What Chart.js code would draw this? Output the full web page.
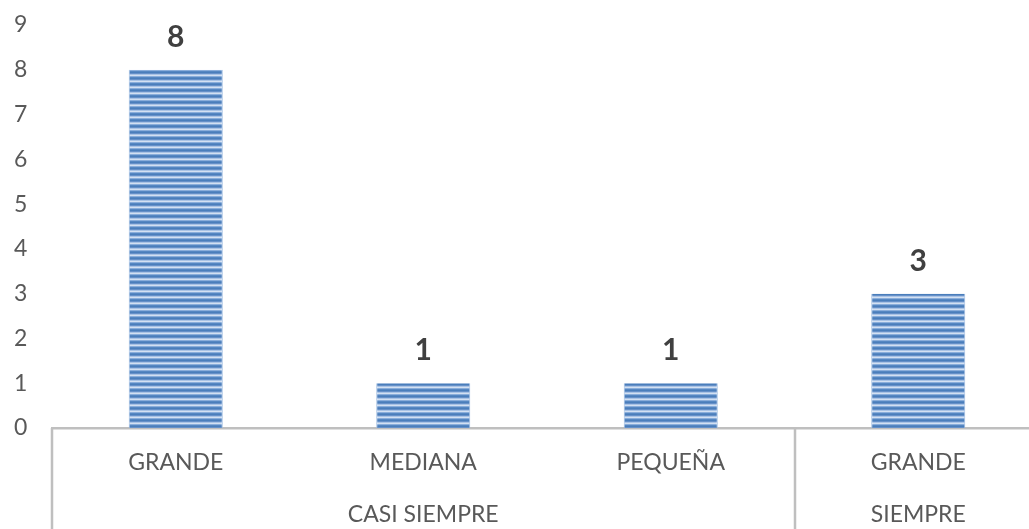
<!DOCTYPE html>
<html>
<head>
<meta charset="utf-8">
<script src="https://cdn.jsdelivr.net/npm/chart.js@4/dist/chart.umd.min.js"></script>
<style>
html,body{margin:0;padding:0;overflow:hidden;background:#fff;width:1029px;height:529px;}
#wrap{width:1042px;height:529px;}
</style>
</head>
<body>
<div id="wrap"><canvas id="c" width="1042" height="529"></canvas></div>
<script>
const categories = ['GRANDE', 'MEDIANA', 'PEQUEÑA', 'GRANDE'];
const groups = ['CASI SIEMPRE', 'SIEMPRE'];
const groupSizes = [3, 1];
const values = [8, 1, 1, 3];
const yTicks = [0, 1, 2, 3, 4, 5, 6, 7, 8, 9];

function makePattern(ctx) {
  const p = document.createElement('canvas');
  p.width = 4; p.height = 6;
  const pc = p.getContext('2d');
  const rows = ['#4a7ebb', '#6690c8', '#a9c3e5', '#d3e0f2', '#8aaedb', '#5687c2'];
  rows.forEach((c, i) => { pc.fillStyle = c; pc.fillRect(0, i, 4, 1); });
  return ctx.createPattern(p, 'repeat');
}

const ctx = document.getElementById('c').getContext('2d');
const pattern = makePattern(ctx);
const lineColor = '#bfbfbf';

const decor = {
  id: 'decor',
  afterDraw(chart) {
    const c = chart.ctx;
    const x = chart.scales.x;
    const area = chart.chartArea;
    const bottom = chart.height;
    c.save();
    c.strokeStyle = lineColor;
    c.lineWidth = 2.5;
    let idx = -0.5;
    const seps = [idx];
    groupSizes.forEach(s => { idx += s; seps.push(idx); });
    seps.forEach((v, i) => {
      if (i === seps.length - 1) return;
      const px = Math.round(x.getPixelForValue(v));
      c.beginPath(); c.moveTo(px, area.bottom); c.lineTo(px, bottom); c.stroke();
    });
    c.fillStyle = '#595959';
    c.font = '23px Lato';
    c.textAlign = 'center';
    c.textBaseline = 'middle';
    groups.forEach((g, i) => {
      const a = x.getPixelForValue(seps[i]), b = x.getPixelForValue(seps[i + 1]);
      c.fillText(g, (a + b) / 2, 515);
    });
    c.fillStyle = '#404040';
    c.font = 'bold 30px Lato';
    c.textBaseline = 'alphabetic';
    const meta = chart.getDatasetMeta(0);
    meta.data.forEach((bar, i) => {
      c.fillText(String(values[i]), bar.x, bar.y - 23);
    });
    c.restore();
  }
};

new Chart(ctx, {
  type: 'bar',
  data: {
    labels: categories,
    datasets: [{
      data: values,
      backgroundColor: pattern,
      borderColor: '#9dbbe0',
      borderWidth: {left: 1, right: 1, top: 0, bottom: 0},
      barPercentage: 0.76,
      categoryPercentage: 0.5
    }]
  },
  options: {
    responsive: false,
    animation: false,
    events: [],
    layout: {padding: {top: 25, left: 14, right: 0, bottom: 0}},
    plugins: {legend: {display: false}, tooltip: {enabled: false}},
    scales: {
      y: {
        min: 0, max: 9,
        afterFit(s) { s.width = 38; },
        afterBuildTicks(s) { s.ticks = yTicks.map(v => ({value: v})); },
        grid: {display: false, drawTicks: false},
        border: {display: false},
        ticks: {padding: 0, crossAlign: 'far', color: '#595959', font: {family: 'Lato', size: 23}}
      },
      x: {
        afterFit(s) { s.height = 101; },
        grid: {display: false, drawTicks: false},
        border: {display: true, color: lineColor, width: 2.5},
        ticks: {padding: 21, color: '#595959', font: {family: 'Lato', size: 23}, maxRotation: 0}
      }
    }
  },
  plugins: [decor]
});
</script>
</body>
</html>
